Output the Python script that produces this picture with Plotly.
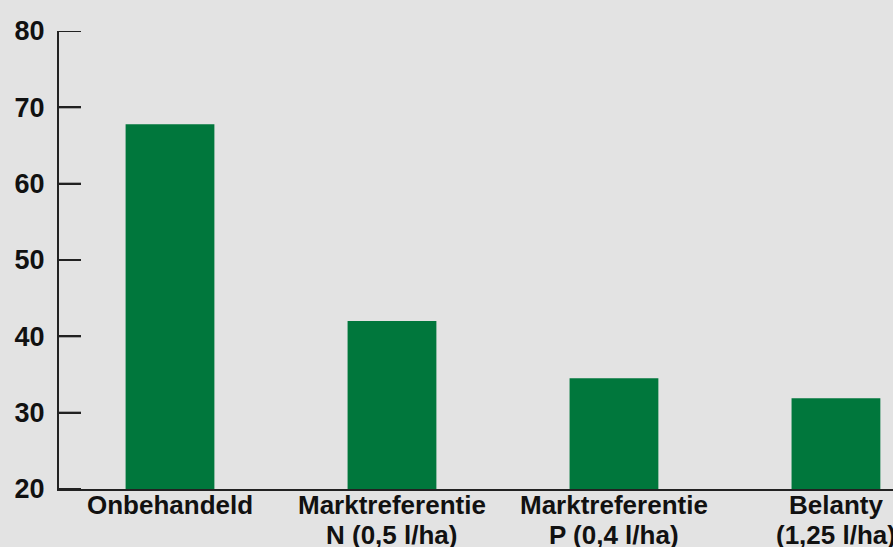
import plotly.graph_objects as go

cat_line1 = ["Onbehandeld", "Marktreferentie", "Marktreferentie", "Belanty"]
cat_line2 = ["", "N (0,5 l/ha)", "P (0,4 l/ha)", "(1,25 l/ha)"]
values = [67.8, 42.0, 34.5, 31.9]
y_ticks = [20, 30, 40, 50, 60, 70, 80]

xs = list(range(len(cat_line1)))
x_range = [-0.5, 3.257]
fig = go.Figure(go.Bar(x=xs, y=values, marker_color="#00773c",
                       marker_line_width=0, width=0.4))

font_family = "Liberation Sans, Arial, sans-serif"
txt_color = "#111111"
axis_color = "#222222"
lab_font = dict(size=26, family=font_family, weight="bold", color=txt_color)

for i in range(len(xs)):
    fig.add_annotation(x=xs[i], xref="x", y=0, yref="paper", text=cat_line1[i], showarrow=False,
                       yanchor="middle", yshift=-16, font=lab_font)
    if cat_line2[i]:
        fig.add_annotation(x=xs[i], xref="x", y=0, yref="paper", text=cat_line2[i], showarrow=False,
                           yanchor="middle", yshift=-46, font=lab_font)

# inward tick marks on the y axis (pixel-length lines anchored at the axis)
for v in y_ticks:
    fig.add_shape(type="line", xref="x", yref="y", xsizemode="pixel", xanchor=x_range[0],
                  x0=0, x1=22, y0=v, y1=v, line=dict(color=axis_color, width=2))

fig.update_layout(
    width=893, height=547,
    margin=dict(l=59, r=0, t=31, b=58),
    paper_bgcolor="#e3e3e3", plot_bgcolor="#e3e3e3",
    showlegend=False,
    font=dict(family=font_family, color=txt_color),
    xaxis=dict(
        range=x_range, tickvals=xs, showticklabels=False,
        showgrid=False, zeroline=False, showline=True, linecolor=axis_color, linewidth=2,
        ticks="",
    ),
    yaxis=dict(
        range=[20, 80], tickvals=y_ticks, showgrid=False, zeroline=False,
        showline=True, linecolor=axis_color, linewidth=2,
        ticks="inside", ticklen=22, tickwidth=2, tickcolor=axis_color,
        tickfont=dict(size=27, family=font_family, weight="bold"),
        ticklabelstandoff=7,
    ),
)

post = (
    "document.body.style.margin='0';"
    "document.body.style.background='#e3e3e3';"
)
fig.write_html("out.html", config={"displayModeBar": False}, post_script=post)
